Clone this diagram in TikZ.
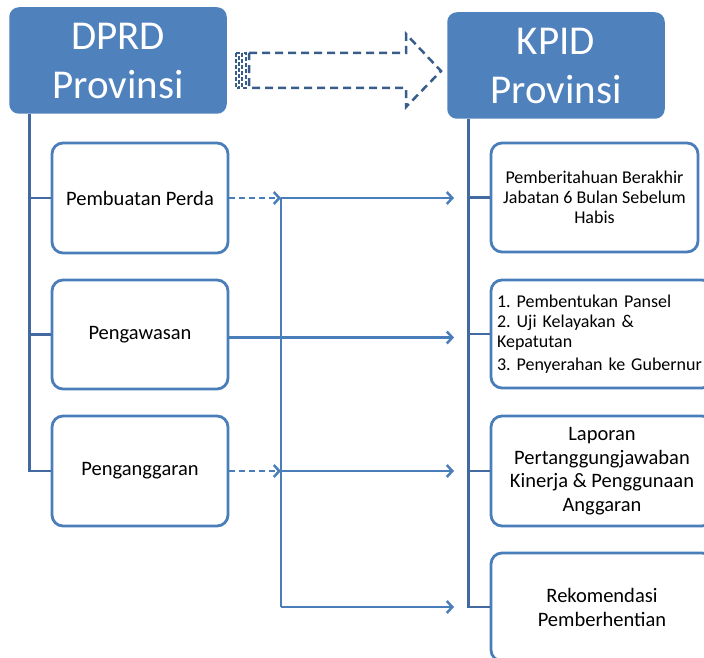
\documentclass[tikz,border=0pt]{standalone}
\usepackage{fontspec}
\setmainfont{Carlito}
\usetikzlibrary{arrows.meta}
\definecolor{tblue}{RGB}{79,129,189}
\definecolor{trunkc}{RGB}{66,106,160}
\definecolor{lbl}{RGB}{74,126,187}
\definecolor{darr}{RGB}{56,93,138}
\frenchspacing
\begin{document}
\begin{tikzpicture}[x=1pt,y=-1pt,
  title/.style={draw=tblue, fill=tblue, rounded corners=9pt, line width=1.5pt, text=white,
    font=\fontsize{41}{49}\selectfont, align=center, inner sep=0pt,
    minimum width=216pt, minimum height=105pt},
  box/.style={draw=lbl, fill=white, rounded corners=11pt, line width=2.8pt, inner sep=0pt,
    align=center, text=black},
  bigtxt/.style={font=\fontsize{20.5}{24}\selectfont},
  smalltxt/.style={font=\fontsize{18}{20}\selectfont},
  trunkline/.style={draw=trunkc, line width=2.7pt},
  conn/.style={draw=lbl, line width=2.5pt, -{Straight Barb[length=5.5pt,width=12pt,line width=2.5pt]}},
  dconn/.style={conn, dash pattern=on 6pt off 4pt},
  plainconn/.style={draw=lbl, line width=2.5pt},
  blockarr/.style={draw=darr, line width=2.5pt, dash pattern=on 8pt off 5pt, line join=miter}
]
\useasboundingbox (0,0) rectangle (704,658);

% title boxes
\node[title] (dprd) at (118,60.5) {DPRD\\Provinsi};
\node[title] (kpid) at (556,65.5) {KPID\\Provinsi};

% block arrow (striped right arrow)
\draw[blockarr, dash pattern=on 4pt off 2pt] (236,53) rectangle (239,88);
\draw[blockarr, dash pattern=on 4pt off 2pt] (242,53) rectangle (246,88);
\draw[blockarr] (249,53) -- (406,53) -- (406,34) -- (441,71) -- (406,107) -- (406,88) -- (249,88) -- cycle;

% left boxes
\node[box, bigtxt, minimum width=176pt, minimum height=110pt] (perda) at (140,198) {Pembuatan Perda};
\node[box, bigtxt, minimum width=176pt, minimum height=109pt] (peng) at (140,334.5) {Pengawasan};
\node[box, bigtxt, minimum width=176pt, minimum height=110pt] (pang) at (140,471) {Penganggaran};

% right boxes
\node[box, smalltxt, minimum width=207pt, minimum height=109pt] (pemb) at (594.5,197.5)
  {Pemberitahuan Berakhir\\Jabatan 6 Bulan Sebelum\\Habis};
\node[box, font=\fontsize{18}{19.5}\selectfont, minimum width=222pt, minimum height=108pt, text width=210pt, align=left] (pansel) at (602,334)
  {1. Pembentukan Pansel\\[1pt]2. Uji Kelayakan \&\\Kepatutan\\[4pt]3. Penyerahan ke Gubernur\\[11pt]};
\node[box, font=\fontsize{20.5}{23.5}\selectfont, minimum width=222pt, minimum height=110pt] (lap) at (602,471)
  {Laporan\\Pertanggungjawaban\\Kinerja \& Penggunaan\\Anggaran};
\node[box, bigtxt, minimum width=222pt, minimum height=108pt] (rek) at (602,607)
  {Rekomendasi\\Pemberhentian};

% trunks
\coordinate (lt) at ([xshift=20pt]dprd.south west);
\coordinate (rt) at ([xshift=21pt]kpid.south west);
\draw[trunkline] (lt) |- (pang.west);
\draw[trunkline] (perda.west -| lt) -- (perda.west);
\draw[trunkline] (peng.west -| lt) -- (peng.west);
\draw[trunkline] (rt) |- (rek.west);
\draw[trunkline] (pemb.west -| rt) -- (pemb.west);
\draw[trunkline] (pansel.west -| rt) -- (pansel.west);
\draw[trunkline] (lap.west -| rt) -- (lap.west);

% connectors
\coordinate (vx) at (281,0);
\coordinate (tx) at (454,0);
\coordinate (j1) at (perda.east -| vx);
\coordinate (j2) at (pang.east -| vx);
\coordinate (j3) at (rek.west -| vx);
\draw[plainconn] (j1) -- (j3);
\draw[dconn] (perda.east) -- (j1);
\draw[dconn] (pang.east) -- (j2);
\draw[conn] (j1) -- (perda.east -| tx);
\draw[conn] (j2) -- (pang.east -| tx);
\draw[conn] (j3) -- (rek.west -| tx);
\draw[conn] ([yshift=-3pt]peng.east) -- ([yshift=-3pt]peng.east -| tx);
\end{tikzpicture}
\end{document}
